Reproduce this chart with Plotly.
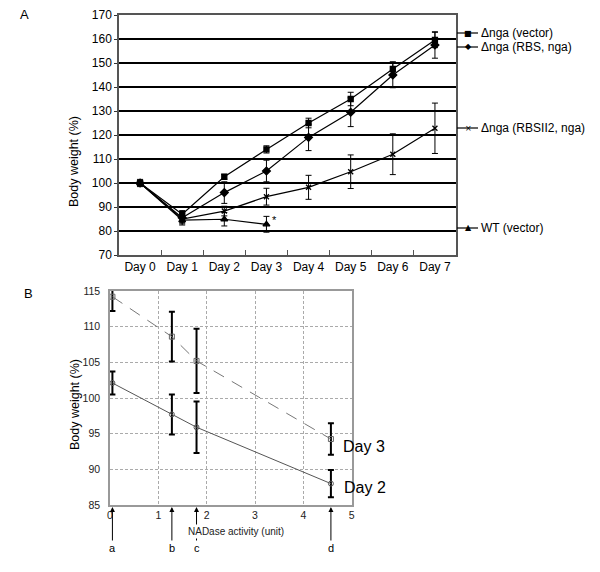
import plotly.graph_objects as go

W, H = 600, 572
OFF = 8  # page body margin offset

# ---------------- Panel A data ----------------
days = ["Day 0", "Day 1", "Day 2", "Day 3", "Day 4", "Day 5", "Day 6", "Day 7"]
day_idx = list(range(len(days)))
vec = [100, 87, 102.6, 114, 125, 135, 147.5, 159.6]
vec_err = [1.5, 1.5, 1, 1.5, 2, 2.8, 3, 3.2]
rbs = [100, 85.5, 96, 105, 119, 129.5, 145, 157.5]
rbs_err = [1, 2, 4.5, 4.5, 5.5, 6, 5.3, 5.5]
rbsii2 = [100, 85, 88.3, 94.3, 98.2, 104.7, 112, 122.8]
rbsii2_err = [1, 2, 2, 3.5, 5, 7, 8.5, 10.5]
wt = [100, 84.5, 84.9, 82.8]
wt_err = [1, 2, 2.8, 3.3]
series_names = ["\u0394nga (vector)", "\u0394nga (RBS, nga)", "\u0394nga (RBSII2, nga)", "WT (vector)"]

# ---------------- Panel B data ----------------
nad = [0.05, 1.28, 1.79, 4.57]
nad_labels = ["a", "b", "c", "d"]
day3 = [114.2, 108.6, 105.2, 94.25]
day3_err = [2, 3.5, 4.5, 2.2]
day2 = [102.1, 97.7, 95.9, 88.0]
day2_err = [1.6, 2.8, 3.6, 1.9]

FONT = "Liberation Sans, Arial, sans-serif"

fig = go.Figure()

def err(a, th=1, w=3):
    return dict(type="data", array=a, visible=True, color="black", thickness=th, width=w)

markers = [("square", 5), ("diamond", 6), ("x-thin-open", 5), ("triangle-up", 6)]
A_series = [(vec, vec_err), (rbs, rbs_err), (rbsii2, rbsii2_err), (wt, wt_err)]
for (ys, es), (sym, sz), nm in zip(A_series, markers, series_names):
    fig.add_trace(go.Scatter(
        x=day_idx[:len(ys)], y=ys, error_y=err(es),
        mode="lines+markers", name=nm, showlegend=False,
        line=dict(color="black", width=1.2),
        marker=dict(symbol=sym, size=sz, color="black", line=dict(color="black", width=1.3)),
        xaxis="x", yaxis="y", cliponaxis=False))

fig.add_trace(go.Scatter(
    x=nad, y=day3, error_y=err(day3_err, th=2, w=3), mode="lines+markers", showlegend=False,
    line=dict(color="#777", width=1, dash="12px,9px"),
    marker=dict(symbol="square-open", size=5, color="#666", line=dict(width=1)),
    xaxis="x2", yaxis="y2"))
fig.add_trace(go.Scatter(
    x=nad, y=day2, error_y=err(day2_err, th=2, w=3), mode="lines+markers", showlegend=False,
    line=dict(color="#555", width=1),
    marker=dict(symbol="circle-open", size=5, color="#555", line=dict(width=1)),
    xaxis="x2", yaxis="y2"))

def px(x):
    return (x - OFF) / W

def py(y):
    return 1 - (y - OFF) / H

annotations = []
shapes = []

def txt(text, x, y, size, xanchor="center", color="black", family=FONT, **kw):
    d = dict(text=text, x=px(x), y=py(y), xref="paper", yref="paper", showarrow=False,
             xanchor=xanchor, yanchor="middle", font=dict(size=size, color=color, family=family))
    d.update(kw)
    annotations.append(d)

# Panel A legend-like labels
leg_y = [33, 47, 128, 228]
leg_glyph = ["\u25a0", "\u25c6", "\u00d7", "\u25b2"]
for nm, yy, g in zip(series_names, leg_y, leg_glyph):
    shapes.append(dict(type="line", xref="paper", yref="paper", x0=px(457), x1=px(478),
                       y0=py(yy), y1=py(yy), line=dict(color="black", width=1.2)))
    txt(g, 468, yy, 8, family="DejaVu Sans")
    txt(nm, 479, yy, 12, xanchor="left")

annotations.append(dict(text="*", x=3.08, y=84.5, xref="x", yref="y", showarrow=False,
                        xanchor="left", yanchor="middle", font=dict(size=11, color="black", family=FONT)))
txt("A", 24, 15, 13)
txt("B", 28, 293, 13)
txt("Body weight (%)", 74, 162, 12.5, textangle=-90)
txt("Body weight (%)", 75, 405, 12.5, textangle=-90)

# Panel B arrows
for xv, lb in zip(nad, nad_labels):
    annotations.append(dict(text=lb, x=xv, y=py(507), xref="x2", yref="paper",
                            showarrow=True, ax=0, ay=41, arrowhead=2, arrowsize=1, arrowwidth=1,
                            arrowcolor="black", font=dict(size=11, color="black", family=FONT)))
txt("NADase activity (unit)", 236, 531, 10, color="#222", bgcolor="white")
txt("Day 3", 341, 446, 16, xanchor="left")
txt("Day 2", 342, 487, 16, xanchor="left")

fig.update_layout(
    width=W, height=H, margin=dict(l=0, r=0, t=0, b=0, autoexpand=False),
    paper_bgcolor="white", plot_bgcolor="white",
    font=dict(family=FONT, color="black"),
    xaxis=dict(domain=[px(119), px(456)], range=[-0.5, 7.5], tickvals=day_idx, ticktext=days,
               ticks="", showgrid=False, zeroline=False, showline=True, linecolor="#555", linewidth=1.5,
               mirror=True, tickfont=dict(size=12), automargin=False, ticklabeloverflow="allow",
               minor=dict(tickvals=[i + 0.5 for i in day_idx[:-1]], ticks="inside", ticklen=5,
                          tickcolor="#555", showgrid=False),
               anchor="y"),
    yaxis=dict(domain=[py(255), py(15)], range=[70, 170], dtick=10, tick0=70,
               showgrid=True, gridcolor="black", gridwidth=1.5, zeroline=False,
               showline=True, linecolor="#555", linewidth=1.5, mirror=True,
               ticks="outside", ticklen=3, tickcolor="#333", tickfont=dict(size=12), automargin=False,
               ticklabeloverflow="allow", anchor="x"),
    xaxis2=dict(domain=[px(110), px(351.7)], range=[0, 5], dtick=1,
                showgrid=True, gridcolor="#aaa", griddash="3px,2px", gridwidth=1, zeroline=False,
                showline=True, linecolor="#999", linewidth=1.5, mirror=True, automargin=False,
                ticklabeloverflow="allow",
                ticks="", tickfont=dict(size=10.5, color="#222"), anchor="y2"),
    yaxis2=dict(domain=[py(505), py(291)], range=[85, 115], dtick=5,
                showgrid=True, gridcolor="#aaa", griddash="3px,2px", gridwidth=1, zeroline=False,
                showline=True, linecolor="#999", linewidth=1.5, mirror=True, automargin=False,
                ticklabeloverflow="allow",
                ticks="", ticklabelstandoff=6, tickfont=dict(size=10.5, color="#222"),
                anchor="x2"),
    annotations=annotations, shapes=shapes,
)

fig.write_html("out.html")
